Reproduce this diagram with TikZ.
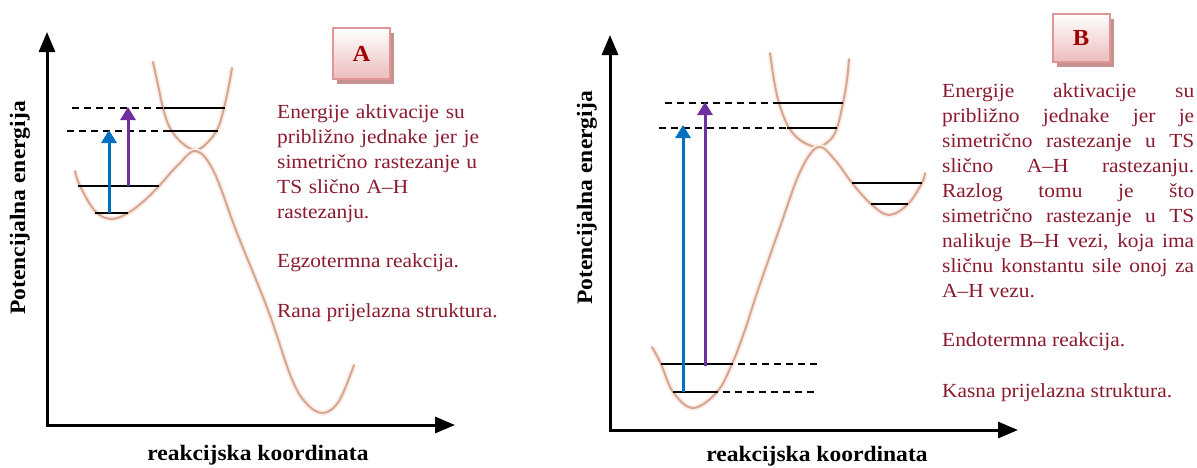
\documentclass[tikz,border=0pt]{standalone}
\usepackage{fontspec}
\setmainfont{Liberation Serif}[FakeStretch=1.07]
\usetikzlibrary{arrows.meta,shadows}
\definecolor{txt}{RGB}{139,26,46}
\definecolor{curvecol}{RGB}{216,166,144}
\definecolor{glowcol}{RGB}{250,238,232}
\definecolor{bluearr}{RGB}{0,112,192}
\definecolor{purparr}{RGB}{112,48,160}
\definecolor{boxedge}{RGB}{224,150,150}
\definecolor{boxfill}{RGB}{236,188,188}
\definecolor{boxshadow}{RGB}{198,145,145}
\definecolor{lettercol}{RGB}{160,0,0}
\begin{document}
\begin{tikzpicture}[x=1pt,y=-1pt,
  axisline/.style={line width=3pt,{Triangle[length=20pt,width=16pt]}-{Triangle[length=20pt,width=16pt]}},
  pes/.style={draw=curvecol,line width=2pt,line cap=round,preaction={draw=glowcol,line width=5.5pt}},
  lvl/.style={line width=2.4pt},
  dsh/.style={line width=1.8pt,dash pattern=on 7pt off 5pt},
  carr/.style={line width=3pt,-{Triangle[length=13pt,width=15pt]}},
  lbox/.style={minimum width=57pt,minimum height=51pt,inner sep=0pt,line width=2pt,draw=boxedge,
    top color=white,bottom color=boxfill,text=lettercol,font=\fontsize{23}{26}\selectfont\bfseries,
    drop shadow={shadow xshift=4pt,shadow yshift=-5pt,fill=boxshadow,opacity=1}},
  body/.style={inner sep=0pt,text=txt,font=\fontsize{20}{25}\selectfont},
  ylab/.style={inner sep=0pt,font=\fontsize{22}{26}\selectfont\bfseries,rotate=90},
  xlab/.style={inner sep=0pt,font=\fontsize{22}{26}\selectfont\bfseries}
]
\useasboundingbox[fill=white] (0,0) rectangle (1197,467);

% ================= Panel A =================
\coordinate (topA) at (47,32);
\coordinate (oA) at (47,425);
\coordinate (rightA) at (455,425);
\draw[axisline] (topA) -- (oA) -- (rightA);

\path[pes] plot[smooth,tension=0.6] coordinates {(153,62) (158,85) (163,108) (170,128) (182,143) (196,150) (208,142) (218,128) (224,108) (229,85) (232,68)};
\path[pes] plot[smooth,tension=0.6] coordinates {(75,171) (80,186) (95,211) (111,219) (128,213) (145,200) (159,186) (178,165) (196,151) (214,172) (237,233) (268,310) (291,377) (306,403) (323,413) (339,401) (354,365)};

\coordinate (a1l) at (72,108); \coordinate (a1m) at (164,108); \coordinate (a1r) at (225,108);
\coordinate (a2l) at (67,131); \coordinate (a2m) at (168,131); \coordinate (a2r) at (218,131);
\coordinate (a3l) at (78,186); \coordinate (a3r) at (159,186);
\coordinate (a4l) at (95,213); \coordinate (a4r) at (128,213);
\draw[dsh] (a1l) -- (a1m); \draw[lvl] (a1m) -- (a1r);
\draw[dsh] (a2l) -- (a2m); \draw[lvl] (a2m) -- (a2r);
\draw[lvl] (a3l) -- (a3r);
\draw[lvl] (a4l) -- (a4r);

\coordinate (abS) at (109,213); \coordinate (abE) at (109,130);
\coordinate (apS) at (128,186); \coordinate (apE) at (128,107);
\draw[carr,draw=bluearr,fill=bluearr] (abS) -- (abE);
\draw[carr,draw=purparr,fill=purparr] (apS) -- (apE);

\node[lbox] (boxA) at (361.5,53.5) {A};

\node[body,anchor=base west,text width=230pt,align=left] (tA1) at (277,118)
  {Energije aktivacije su\\približno jednake jer je\\simetrično rastezanje u\\TS slično A–H\\rastezanju.};
\node[body,anchor=base west] (tA2) at (277,267) {Egzotermna reakcija.};
\node[body,anchor=base west] (tA3) at (277,317) {Rana prijelazna struktura.};

\node[ylab] (yA) at (20,208) {Potencijalna energija};
\node[xlab,anchor=base] (xA) at (258,460) {reakcijska koordinata};

% ================= Panel B =================
\coordinate (topB) at (610,35);
\coordinate (oB) at (610,430);
\coordinate (rightB) at (1018,430);
\draw[axisline] (topB) -- (oB) -- (rightB);

\path[pes] plot[smooth,tension=0.6] coordinates {(770,53) (774,80) (779,103) (788,126) (800,140) (817,147) (830,140) (837,128) (843,103) (847,80) (849,59)};
\path[pes] plot[smooth,tension=0.6] coordinates {(652,347) (661,364) (673,392) (693,408) (717,392) (732,364) (745,330) (757,293) (780,227) (800,172) (818,147) (835,160) (852,183) (871,204) (889,215) (908,204) (922,183) (925,173)};

\coordinate (b1l) at (665,103); \coordinate (b1m) at (778,103); \coordinate (b1r) at (843,103);
\coordinate (b2l) at (659,128); \coordinate (b2m) at (787,128); \coordinate (b2r) at (837,128);
\coordinate (b3l) at (661,364); \coordinate (b3m) at (733,364); \coordinate (b3r) at (817,364);
\coordinate (b4l) at (673,392); \coordinate (b4m) at (718,392); \coordinate (b4r) at (817,392);
\coordinate (b5l) at (852,183); \coordinate (b5r) at (922,183);
\coordinate (b6l) at (871,204); \coordinate (b6r) at (908,204);
\draw[dsh] (b1l) -- (b1m); \draw[lvl] (b1m) -- (b1r);
\draw[dsh] (b2l) -- (b2m); \draw[lvl] (b2m) -- (b2r);
\draw[lvl] (b3l) -- (b3m); \draw[dsh,dash phase=-5pt] (b3m) -- (b3r);
\draw[lvl] (b4l) -- (b4m); \draw[dsh,dash phase=-5pt] (b4m) -- (b4r);
\draw[lvl] (b5l) -- (b5r);
\draw[lvl] (b6l) -- (b6r);

\coordinate (bbS) at (683,392); \coordinate (bbE) at (683,125);
\coordinate (bpS) at (705,366); \coordinate (bpE) at (705,102);
\draw[carr,draw=bluearr,fill=bluearr] (bbS) -- (bbE);
\draw[carr,draw=purparr,fill=purparr] (bpS) -- (bpE);

\node[lbox,minimum height=48pt] (boxB) at (1081,38) {B};

\node[body,anchor=base west,text width=252pt,align=justify] (tB1) at (942,97)
  {Energije aktivacije su\linebreak približno jednake jer je\linebreak simetrično rastezanje u TS\linebreak slično A–H rastezanju.\linebreak Razlog tomu je što\linebreak simetrično rastezanje u TS\linebreak nalikuje B–H vezi, koja ima\linebreak sličnu konstantu sile onoj za\linebreak A–H vezu.};
\node[body,anchor=base west] (tB2) at (942,346) {Endotermna reakcija.};
\node[body,anchor=base west] (tB3) at (942,397) {Kasna prijelazna struktura.};

\node[ylab] (yB) at (587,198) {Potencijalna energija};
\node[xlab,anchor=base] (xB) at (817,461) {reakcijska koordinata};
\end{tikzpicture}
\end{document}
